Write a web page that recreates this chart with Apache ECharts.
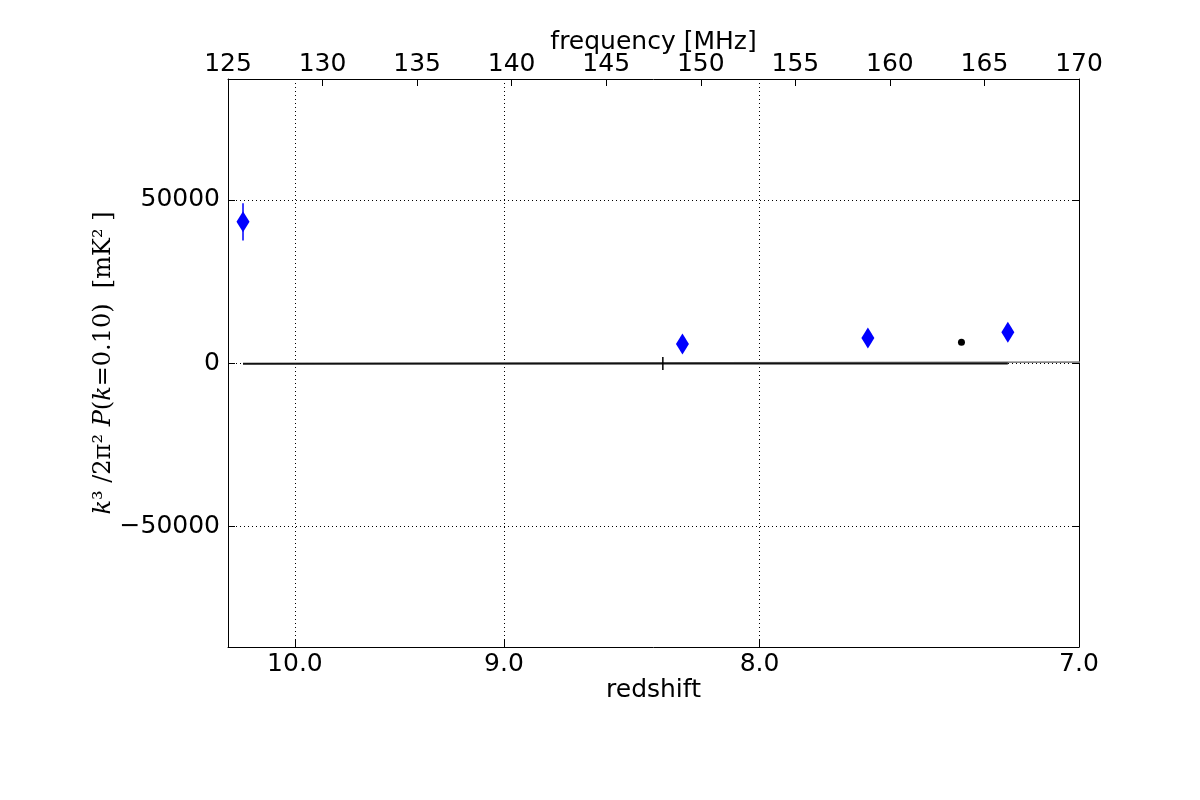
<!DOCTYPE html>
<html>
<head>
<meta charset="utf-8">
<script src="https://cdn.jsdelivr.net/npm/echarts@6/dist/echarts.min.js"></script>
<style>
html, body { margin: 0; padding: 0; background: #fff; }
#chart { width: 1200px; height: 800px; }
</style>
</head>
<body>
<div id="chart"></div>
<script>
// blue diamonds: redshift, power, error
const diamondZ = [10.28, 8.28, 7.634, 7.203];
const diamondPower = [43300, 5800, 7700, 9400];
const diamondErr = [5700, 1000, 1000, 1000];
// black dot
const dotZ = [7.341];
const dotPower = [6400];
// near-zero curve with its grey band
const curveZ = [10.28, 8.354, 8.28, 7.634, 7.341, 7.203];
const curvePower = [-250, -150, -150, -120, -120, -120];
const bandLow = [-1100, -500, -500, -450, -450, -450];
const bandHigh = [200, 100, 100, 80, 80, 80];
// lone error tick on the curve
const tickZ = [8.354];
const tickPower = [-150];
const tickErr = [2000];

const zTicks = [10.0, 9.0, 8.0, 7.0];
const powerTicks = [-50000, 0, 50000];
const uMin = 0.0880, uMax = 0.125;
const powerMax = 87100;

// bottom axis is linear in 1/(1+z)
const toU = z => 1 / (1 + z);
const fontMain = 'DejaVu Sans';
const fs = 25;

let myChart = echarts.init(document.getElementById('chart'));

const gridLine = { show: true, lineStyle: { color: '#000', width: 1, type: [1, 3] } };
const frame = { show: true, onZero: false, lineStyle: { color: '#000', width: 1 } };

function errRender(color) {
  return function (params, api) {
    const x = api.value(0), y = api.value(1), e = api.value(2);
    const a = api.coord([x, y + e]);
    const b = api.coord([x, y - e]);
    return {
      type: 'line',
      shape: { x1: a[0], y1: a[1], x2: b[0], y2: b[1] },
      style: { stroke: color, lineWidth: 1.5 }
    };
  };
}

let option = {
  animation: false,
  grid: { left: 228, right: 121, top: 79, bottom: 153, containLabel: false },
  xAxis: [
    {
      type: 'value', position: 'bottom', min: uMin, max: uMax,
      name: 'redshift', nameLocation: 'middle', nameGap: 31, nameMoveOverlap: false,
      nameTextStyle: { fontFamily: fontMain, fontSize: fs, color: '#000', verticalAlign: 'top' },
      axisLine: frame,
      axisTick: { show: true, inside: true, length: 7, lineStyle: { color: '#000' }, customValues: zTicks.map(toU) },
      axisLabel: {
        customValues: zTicks.map(toU), margin: 5,
        fontFamily: fontMain, fontSize: fs, color: '#000',
        formatter: v => (1 / v - 1).toFixed(1)
      },
      splitLine: gridLine
    },
    {
      type: 'value', position: 'top', min: 125, max: 170, interval: 5,
      name: 'frequency [MHz]', nameLocation: 'middle', nameGap: 24, nameMoveOverlap: false,
      nameTextStyle: { fontFamily: fontMain, fontSize: fs, color: '#000', verticalAlign: 'bottom' },
      axisLine: frame,
      axisTick: { show: true, inside: true, length: 7, lineStyle: { color: '#000' } },
      axisLabel: { margin: 2, fontFamily: fontMain, fontSize: fs, color: '#000' },
      splitLine: { show: false }
    }
  ],
  yAxis: [
    {
      type: 'value', position: 'left', min: -powerMax, max: powerMax,
      name: '{i|k}³ /2π² {i|P}({i|k}=0.10)  [mK² ]',
      nameLocation: 'middle', nameGap: 112, nameRotate: 90, nameMoveOverlap: false,
      nameTextStyle: {
        fontFamily: 'DejaVu Serif', fontSize: 24, color: '#000',
        rich: { i: { fontFamily: 'DejaVu Serif', fontStyle: 'italic', fontSize: 24, color: '#000' } }
      },
      axisLine: frame,
      axisTick: { show: true, inside: true, length: 7, lineStyle: { color: '#000' }, customValues: powerTicks },
      axisLabel: {
        customValues: powerTicks, margin: 8,
        fontFamily: fontMain, fontSize: fs, color: '#000',
        formatter: v => (v < 0 ? '\u2212' + Math.abs(v) : String(v))
      },
      splitLine: gridLine
    },
    {
      type: 'value', position: 'right', min: -powerMax, max: powerMax,
      axisLine: frame,
      axisTick: { show: true, inside: true, length: 7, lineStyle: { color: '#000' }, customValues: powerTicks },
      axisLabel: { show: false },
      splitLine: { show: false }
    }
  ],
  series: [
    {
      type: 'line', stack: 'band', stackStrategy: 'all', symbol: 'none',
      data: curveZ.map((z, i) => [toU(z), bandLow[i]]),
      lineStyle: { opacity: 0 }, z: 1
    },
    {
      type: 'line', stack: 'band', stackStrategy: 'all', symbol: 'none',
      data: curveZ.map((z, i) => [toU(z), bandHigh[i] - bandLow[i]]),
      lineStyle: { opacity: 0 }, areaStyle: { color: '#777', opacity: 0.9 }, z: 1
    },
    {
      type: 'line', symbol: 'none',
      data: curveZ.map((z, i) => [toU(z), curvePower[i]]),
      lineStyle: { color: '#111', width: 2 }, z: 2
    },
    {
      type: 'custom', renderItem: errRender('#000'),
      data: tickZ.map((z, i) => [toU(z), tickPower[i], tickErr[i]]),
      encode: { x: 0, y: 1 }, z: 3
    },
    {
      type: 'custom', renderItem: errRender('#0000ff'),
      data: diamondZ.map((z, i) => [toU(z), diamondPower[i], diamondErr[i]]),
      encode: { x: 0, y: 1 }, z: 3
    },
    {
      type: 'scatter', symbol: 'diamond', symbolSize: [13, 21],
      data: diamondZ.map((z, i) => [toU(z), diamondPower[i]]),
      itemStyle: { color: '#0000ff', opacity: 1 }, z: 4
    },
    {
      type: 'scatter', symbol: 'circle', symbolSize: 7,
      data: dotZ.map((z, i) => [toU(z), dotPower[i]]),
      itemStyle: { color: '#000', opacity: 1 }, z: 4
    }
  ]
};

myChart.setOption(option);
</script>
</body>
</html>
